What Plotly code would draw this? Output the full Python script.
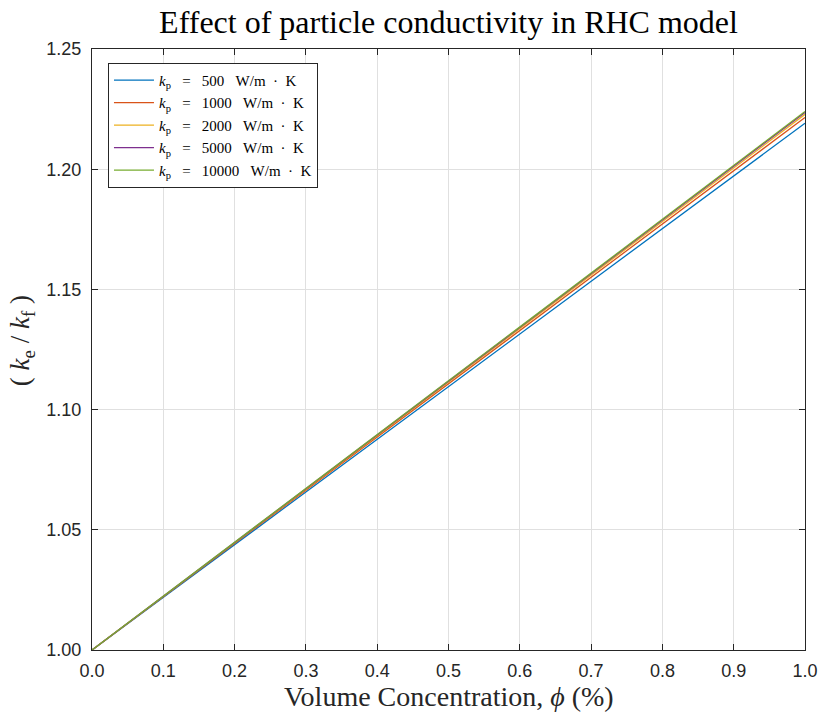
import plotly.graph_objects as go

phi = [0.0, 0.2, 0.4, 0.6, 0.8, 1.0]
kp500 = [1.0, 1.0438, 1.0876, 1.1314, 1.1752, 1.2191]
kp1000 = [1.0, 1.0443, 1.0886, 1.1329, 1.1772, 1.2215]
kp2000 = [1.0, 1.0446, 1.0891, 1.1337, 1.1782, 1.2228]
kp5000 = [1.0, 1.0447, 1.0894, 1.1342, 1.1789, 1.2236]
kp10000 = [1.0, 1.0448, 1.0896, 1.1344, 1.1792, 1.2240]
kp_values = ["500", "1000", "2000", "5000", "10000"]

colors = ["#0072BD", "#D95319", "#EDB120", "#7E2F8E", "#77AC30"]
all_series = [kp500, kp1000, kp2000, kp5000, kp10000]

xticks = [0.0, 0.1, 0.2, 0.3, 0.4, 0.5, 0.6, 0.7, 0.8, 0.9, 1.0]
yticks = [1.00, 1.05, 1.10, 1.15, 1.20, 1.25]

SERIF = "Liberation Serif, DejaVu Serif, serif"
SANS = "Liberation Sans, Arial, sans-serif"
SP3 = "&nbsp;&nbsp;&nbsp;"
SP2 = "&nbsp;&nbsp;"

fig = go.Figure()
for kv, ys, color in zip(kp_values, all_series, colors):
    name = ("<i>k</i><sub>p</sub>" + SP3 + "=" + SP3 + kv + SP3 +
            "W/m" + SP2 + "·" + SP2 + "K")
    fig.add_trace(go.Scatter(x=phi, y=ys, mode="lines", name=name,
                             line=dict(color=color, width=1.3)))

axis_common = dict(showline=True, linecolor="#262626", linewidth=1, mirror="ticks",
                   ticks="inside", ticklen=6, tickcolor="#262626", automargin=False,
                   showgrid=True, gridcolor="#E0E0E0", gridwidth=1, zeroline=False,
                   tickfont=dict(family=SANS, size=18, color="#262626"))

fig.update_layout(
    width=819, height=716,
    paper_bgcolor="white", plot_bgcolor="white",
    margin=dict(l=92, r=14, t=49, b=66),
    title=dict(text="Effect of particle conductivity in RHC model",
               x=0.5, xref="paper", xanchor="center", y=0.969, yanchor="middle", automargin=False,
               font=dict(family=SERIF, size=32, color="black")),
    xaxis=dict(range=[0, 1], tickvals=xticks, tickformat=".1f", ticklabelstandoff=4,
               **axis_common),
    yaxis=dict(range=[1.0, 1.25], tickvals=yticks, tickformat=".2f", ticklabelstandoff=6,
               **axis_common),
    legend=dict(x=0.0224, y=0.977, xanchor="left", yanchor="top",
                bgcolor="white", bordercolor="#262626", borderwidth=1,
                font=dict(family=SERIF, size=15, color="black"),
                tracegroupgap=0, itemwidth=40),
    showlegend=True,
    annotations=[
        dict(text="Volume Concentration, <i>ϕ</i> (%)", xref="paper", yref="paper",
             x=0.5, y=-0.077, xanchor="center", yanchor="middle", showarrow=False,
             font=dict(family=SERIF, size=28, color="#262626")),
        dict(text="( <i>k</i><sub>e</sub> / <i>k</i><sub>f</sub> )", xref="paper", yref="paper",
             x=-0.098, y=0.514, xanchor="center", yanchor="middle", textangle=-90,
             showarrow=False, font=dict(family=SERIF, size=27, color="#262626")),
    ],
)

fig.write_html("out.html", config={"displayModeBar": False},
               post_script="document.body.style.margin='0';")
